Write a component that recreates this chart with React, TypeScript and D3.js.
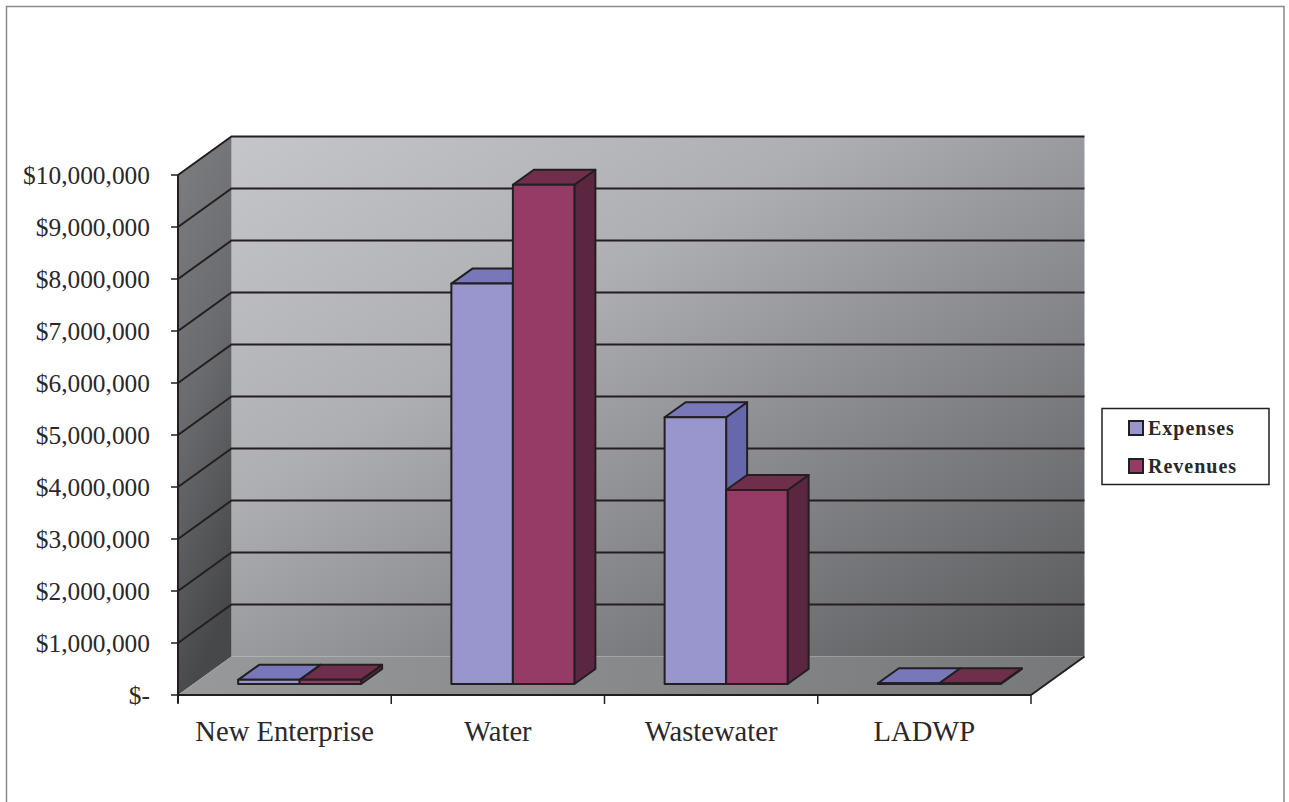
import React from "react";
import * as d3 from "d3";

const categories = ["New Enterprise", "Water", "Wastewater", "LADWP"];
const seriesNames = ["Expenses", "Revenues"];
const expenses = [80000, 7700000, 5130000, 15000];
const revenues = [80000, 9600000, 3730000, 15000];
const tickValues = [0, 1e6, 2e6, 3e6, 4e6, 5e6, 6e6, 7e6, 8e6, 9e6, 1e7];
const tickLabels = ["$-", "$1,000,000", "$2,000,000", "$3,000,000", "$4,000,000", "$5,000,000", "$6,000,000", "$7,000,000", "$8,000,000", "$9,000,000", "$10,000,000"];

const front = { left: 178, right: 1031, bottom: 695, top: 175 };
const wallDx = 53.5, wallDy = -38.5;
const barOffsetX = 15, barOffsetY = -11;
const barDx = 21, barDy = -15;
const x = d3.scaleBand<string>().domain(categories).range([front.left, front.right]);
const y = d3.scaleLinear().domain([0, 1e7]).range([front.bottom, front.top]);
const inner = d3.scaleBand<string>().domain(seriesNames).range([0, 123]);
const fills = [
  { face: "#9896cc", top: "#7877ba", side: "#6767ab" },
  { face: "#963a66", top: "#6f2e4c", side: "#5b2740" },
];
const ink = "#231f20";
const pts = (a: number[][]) => a.map((p) => p.join(",")).join(" ");

export default function App() {
  const bw = inner.bandwidth();
  const wallL = front.left + wallDx, wallR = front.right + wallDx;
  const wallT = front.top + wallDy, wallB = front.bottom + wallDy;
  const bars = seriesNames.flatMap((s, si) =>
    categories.map((c, ci) => ({ s, si, c, v: (si === 0 ? expenses : revenues)[ci] }))
  );
  return (
    <svg width={1289} height={802} style={{ position: "absolute", left: 0, top: 0 }} fontFamily="'Liberation Serif', serif">
      <defs>
        <linearGradient id="back" x1="0" y1="0" x2="1" y2="1">
          <stop offset="0" stopColor="#c5c6c9" />
          <stop offset="0.35" stopColor="#aeafb2" />
          <stop offset="0.7" stopColor="#7f8083" />
          <stop offset="1" stopColor="#58595b" />
        </linearGradient>
        <linearGradient id="side" x1="0" y1="0" x2="0.25" y2="1">
          <stop offset="0" stopColor="#7d7e81" />
          <stop offset="0.5" stopColor="#6a6b6e" />
          <stop offset="1" stopColor="#47484a" />
        </linearGradient>
        <linearGradient id="floor" x1="0" y1="0" x2="1" y2="0">
          <stop offset="0" stopColor="#98999b" />
          <stop offset="1" stopColor="#77787a" />
        </linearGradient>
      </defs>
      <rect width={1289} height={802} fill="#fff" />
      <path d="M6.5 802V6.5H1284V802" fill="none" stroke="#8a8a8c" strokeWidth={1.5} />

      <polygon points={pts([[wallL, wallT], [wallR, wallT], [wallR, wallB], [wallL, wallB]])} fill="url(#back)" />
      <polygon points={pts([[front.left, front.top], [wallL, wallT], [wallL, wallB], [front.left, front.bottom]])} fill="url(#side)" />
      <polygon points={pts([[front.left, front.bottom], [wallL, wallB], [wallR, wallB], [front.right, front.bottom]])} fill="url(#floor)" />

      {tickValues.map((t) => (
        <g key={t}>
          {t > 0 && (
            <polyline
              points={pts([[front.left, y(t)], [wallL, y(t) + wallDy], [wallR, y(t) + wallDy]])}
              fill="none" stroke={ink} strokeWidth={2}
            />
          )}
          <line x1={front.left - 7} x2={front.left} y1={y(t)} y2={y(t)} stroke={ink} strokeWidth={1.5} />
        </g>
      ))}
      {tickValues.map((t, i) => (
        <text key={t} x={150} y={y(t) + 8.5} textAnchor="end" fontSize={25.4} fill="#2b2829">{tickLabels[i]}</text>
      ))}
      <line x1={front.left} x2={front.left} y1={front.top} y2={front.bottom + 8} stroke={ink} strokeWidth={2} />
      <line x1={front.left} x2={front.right} y1={front.bottom} y2={front.bottom} stroke={ink} strokeWidth={2} />
      <line x1={front.right} x2={wallR} y1={front.bottom} y2={wallB} stroke={ink} strokeWidth={2} />
      {x.domain().concat("").map((c, i) => {
        const px = c ? (x(c) as number) : front.right;
        return <line key={i} x1={px} x2={px} y1={front.bottom} y2={front.bottom + 9} stroke={ink} strokeWidth={1.5} />;
      })}
      {categories.map((c) => (
        <text key={c} x={(x(c) as number) + x.bandwidth() / 2} y={741} textAnchor="middle" fontSize={28.6} fill="#2b2829">{c}</text>
      ))}

      {bars
        .slice()
        .sort((a, b) => a.si - b.si)
        .map(({ s, si, c, v }) => {
          const x0 = (x(c) as number) + barOffsetX + (x.bandwidth() - 123) / 2 + (inner(s) as number);
          const x1 = x0 + bw;
          const yB = y(0) + barOffsetY;
          const yT = y(v) + barOffsetY;
          const f = fills[si];
          return (
            <g key={s + c} stroke={ink} strokeWidth={2} strokeLinejoin="round">
              <polygon points={pts([[x1, yT], [x1 + barDx, yT + barDy], [x1 + barDx, yB + barDy], [x1, yB]])} fill={f.side} />
              <polygon points={pts([[x0, yT], [x0 + barDx, yT + barDy], [x1 + barDx, yT + barDy], [x1, yT]])} fill={f.top} />
              <rect x={x0} y={yT} width={bw} height={yB - yT} fill={f.face} />
            </g>
          );
        })}

      <rect x={1102} y={408.5} width={167} height={76} fill="#fff" stroke={ink} strokeWidth={1.5} />
      {seriesNames.map((s, i) => (
        <g key={s}>
          <rect x={1129} y={421 + i * 38} width={14} height={14} fill={fills[i].face} stroke={ink} strokeWidth={2} />
          <text x={1148} y={435 + i * 38} fontSize={20} fontWeight="bold" letterSpacing={1} fill="#2b2829">{s}</text>
        </g>
      ))}
    </svg>
  );
}
